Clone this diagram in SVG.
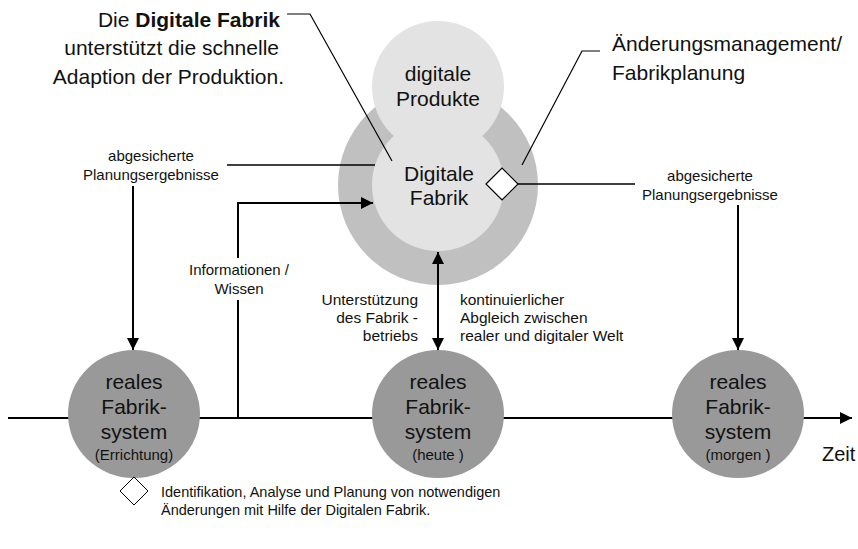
<svg xmlns="http://www.w3.org/2000/svg" width="858" height="549" viewBox="0 0 858 549">
  <style>
    text { font-family: "Liberation Sans", Arial, sans-serif; fill: #111; }
    .big { font-size: 21px; }
    .mid { font-size: 15.5px; }
    .sm { font-size: 15px; }
    .c { text-anchor: middle; }
    .e { text-anchor: end; }
    .conn { fill: none; stroke: #000; stroke-width: 2; }
    .thin { fill: none; stroke: #000; stroke-width: 1.2; }
    .real { fill: #999999; }
  </style>
  <defs>
    <marker id="ah" viewBox="0 0 12 12" refX="12" refY="6" markerWidth="12" markerHeight="12" markerUnits="userSpaceOnUse" orient="auto-start-reverse">
      <path d="M0,0 L12,6 L0,12 Z" fill="#000"/>
    </marker>
  </defs>

  <rect width="858" height="549" fill="#fff"/>

  <!-- time axis -->
  <g id="zeitachse">
    <line x1="8" y1="418" x2="852" y2="418" class="conn" marker-end="url(#ah)"/>
    <text x="822" y="461" class="big" style="font-size:20px">Zeit</text>
  </g>

  <!-- digital factory cluster -->
  <g id="digitale-fabrik">
    <circle cx="438" cy="185" r="100" fill="#c0c0c0"/>
    <circle cx="438" cy="87" r="66" fill="#e3e3e3"/>
    <circle cx="438" cy="185" r="66" fill="#e3e3e3"/>
    <text x="438" y="81" class="big c">digitale</text>
    <text x="438" y="106" class="big c">Produkte</text>
    <text x="439" y="181" class="big c">Digitale</text>
    <text x="439" y="205" class="big c">Fabrik</text>
    <polygon points="486,184 502,168 518,184 502,200" fill="#fff" stroke="#000" stroke-width="1.2"/>
  </g>

  <!-- connectors -->
  <g id="connectors">
    <!-- Informationen / Wissen -->
    <line x1="238" y1="418" x2="238" y2="300" class="conn"/>
    <polyline points="238,258 238,203 373,203" class="conn" marker-end="url(#ah)"/>
    <!-- abgesicherte Planungsergebnisse (left) -->
    <line x1="227" y1="165" x2="375" y2="165" class="conn" style="stroke-width:1.5"/>
    <line x1="133" y1="186" x2="133" y2="350" class="conn" marker-end="url(#ah)"/>
    <!-- abgesicherte Planungsergebnisse (right) -->
    <line x1="518" y1="184" x2="635" y2="184" class="conn" style="stroke-width:1.5"/>
    <line x1="738" y1="205" x2="738" y2="350" class="conn" marker-end="url(#ah)"/>
    <!-- continuous alignment -->
    <line x1="438" y1="252" x2="438" y2="350" class="conn" marker-start="url(#ah)" marker-end="url(#ah)"/>
  </g>

  <!-- callouts -->
  <g id="callouts">
    <polyline points="287,14 310,14 392,161" class="thin"/>
    <polyline points="600,51 582,51 522,165" class="thin"/>
  </g>

  <g id="note-digitale-fabrik">
    <text x="280" y="27" class="big e">Die <tspan font-weight="bold">Digitale Fabrik</tspan></text>
    <text x="279" y="55" class="big e">unterstützt die schnelle</text>
    <text x="284" y="84" class="big e">Adaption der Produktion.</text>
  </g>

  <g id="note-aenderungsmanagement">
    <text x="612" y="51" class="big">Änderungsmanagement/</text>
    <text x="612" y="80" class="big">Fabrikplanung</text>
  </g>

  <!-- labels -->
  <g id="label-planung-links">
    <text x="151" y="161" class="sm c">abgesicherte</text>
    <text x="151" y="180" class="sm c">Planungsergebnisse</text>
  </g>
  <g id="label-planung-rechts">
    <text x="710" y="181" class="sm c">abgesicherte</text>
    <text x="710" y="200" class="sm c">Planungsergebnisse</text>
  </g>
  <g id="label-informationen">
    <text x="239" y="275" class="sm c">Informationen /</text>
    <text x="239" y="294" class="sm c">Wissen</text>
  </g>
  <g id="label-unterstuetzung">
    <text x="418" y="305" class="mid e">Unterstützung</text>
    <text x="418" y="323" class="mid e">des Fabrik -</text>
    <text x="418" y="341" class="mid e">betriebs</text>
  </g>
  <g id="label-abgleich">
    <text x="460" y="305" class="mid">kontinuierlicher</text>
    <text x="460" y="323" class="mid">Abgleich zwischen</text>
    <text x="460" y="341" class="mid">realer und digitaler Welt</text>
  </g>

  <!-- real factory systems -->
  <g id="real-errichtung">
    <ellipse cx="134" cy="414" rx="66" ry="64" class="real"/>
    <text x="134" y="389" class="big c">reales</text>
    <text x="134" y="414" class="big c">Fabrik-</text>
    <text x="134" y="439" class="big c">system</text>
    <text x="134" y="460" class="sm c">(Errichtung)</text>
  </g>
  <g id="real-heute">
    <ellipse cx="438" cy="414" rx="66" ry="64" class="real"/>
    <text x="438" y="389" class="big c">reales</text>
    <text x="438" y="414" class="big c">Fabrik-</text>
    <text x="438" y="439" class="big c">system</text>
    <text x="438" y="460" class="sm c">(heute )</text>
  </g>
  <g id="real-morgen">
    <ellipse cx="738" cy="414" rx="66" ry="64" class="real"/>
    <text x="738" y="389" class="big c">reales</text>
    <text x="738" y="414" class="big c">Fabrik-</text>
    <text x="738" y="439" class="big c">system</text>
    <text x="738" y="460" class="sm c">(morgen )</text>
  </g>

  <!-- legend -->
  <g id="legend">
    <polygon points="120,491 134,477 148,491 134,505" fill="#fff" stroke="#000" stroke-width="1"/>
    <text x="161" y="497" class="sm" style="font-size:14.5px">Identifikation, Analyse und Planung von notwendigen</text>
    <text x="161" y="515" class="sm" style="font-size:14.5px">Änderungen mit Hilfe der Digitalen Fabrik.</text>
  </g>
</svg>
